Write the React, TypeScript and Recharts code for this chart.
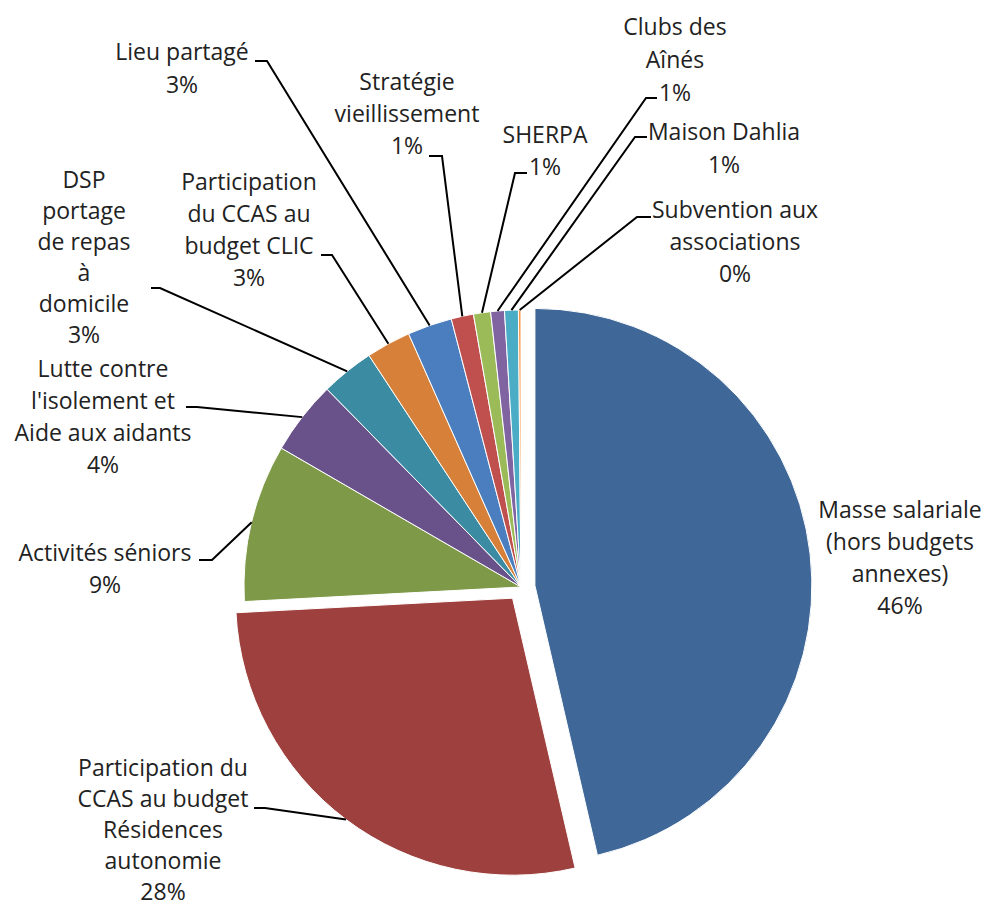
import React from 'react';
import { PieChart, Pie, Cell } from 'recharts';

const categories = [
  'Masse salariale (hors budgets annexes)',
  'Participation du CCAS au budget Résidences autonomie',
  'Activités séniors',
  "Lutte contre l'isolement et Aide aux aidants",
  'DSP portage de repas à domicile',
  'Participation du CCAS au budget CLIC',
  'Lieu partagé',
  'Stratégie vieillissement',
  'SHERPA',
  'Clubs des Aînés',
  'Maison Dahlia',
  'Subvention aux associations',
];

const shares = [46.4, 27.8, 9.2, 4.3, 3.1, 2.6, 2.6, 1.3, 1.0, 0.8, 0.8, 0.15];

const explodedSlices = [true, true, false, false, false, false, false, false, false, false, false, false];

const colors = [
  '#3F6797', '#9E413E', '#7E9A48', '#69518A', '#3B8CA2', '#D6803A',
  '#4A7EBF', '#C0504D', '#9BBB59', '#8064A2', '#4BACC6', '#F79646',
];

// words per wrapped label line
const wrapWords = [
  [2, 2, 1],
  [2, 3, 1, 1],
  [2],
  [2, 2, 3],
  [1, 1, 2, 1, 1],
  [1, 3, 2],
  [2],
  [1, 1],
  [1],
  [2, 1],
  [2],
  [2, 1],
];

// label text centre x, first line centre y, leader elbow (ex, ey) and end x
type Layout = { x: number; y: number; lh: number; leader: null | { ex: number; ey: number; endX: number } };
const labelLayout: Layout[] = [
  { x: 900, y: 510, lh: 32, leader: null },
  { x: 163, y: 768, lh: 31, leader: { ex: 265, ey: 808, endX: 254 } },
  { x: 105, y: 553, lh: 32, leader: { ex: 212, ey: 560, endX: 199 } },
  { x: 103, y: 369, lh: 32, leader: { ex: 197, ey: 407, endX: 186 } },
  { x: 84, y: 180, lh: 31, leader: { ex: 160, ey: 288, endX: 151 } },
  { x: 249, y: 182, lh: 32, leader: { ex: 332, ey: 255, endX: 321 } },
  { x: 182, y: 52, lh: 33, leader: { ex: 267, ey: 61, endX: 255 } },
  { x: 407, y: 82, lh: 32, leader: { ex: 442, ey: 156, endX: 429 } },
  { x: 545, y: 135, lh: 32, leader: { ex: 515, ey: 173, endX: 527 } },
  { x: 675, y: 27, lh: 33, leader: { ex: 646, ey: 98, endX: 657 } },
  { x: 724, y: 132, lh: 33, leader: { ex: 635, ey: 137, endX: 647 } },
  { x: 735, y: 210, lh: 32, leader: { ex: 637, ey: 217, endX: 651 } },
];

const CX = 521;
const CY = 587;
const R = 277;
const EXPLODE = 14;
const RAD = Math.PI / 180;
const FONT = '"Open Sans", Lato, sans-serif';
const FONT_SIZE = 23;

const data = categories.map((name, i) => ({ name, value: shares[i] }));
const total = shares.reduce((a, b) => a + b, 0);

function explodeOffset(i: number) {
  if (!explodedSlices[i]) return { dx: 0, dy: 0 };
  const before = shares.slice(0, i).reduce((a, b) => a + b, 0);
  const mid = 90 - (360 * (before + shares[i] / 2)) / total;
  return { dx: EXPLODE * Math.cos(mid * RAD), dy: -EXPLODE * Math.sin(mid * RAD) };
}

function wrapName(name: string, counts: number[]) {
  const words = name.split(' ');
  const lines: string[] = [];
  let k = 0;
  counts.forEach((c) => {
    lines.push(words.slice(k, k + c).join(' '));
    k += c;
  });
  return lines;
}

const renderLabel = (props: any) => {
  const { cx, cy, midAngle, outerRadius, percent, index } = props;
  const lay = labelLayout[index];
  const off = explodeOffset(index);
  const px = cx + off.dx + outerRadius * Math.cos(-midAngle * RAD);
  const py = cy + off.dy + outerRadius * Math.sin(-midAngle * RAD);
  const lines = [...wrapName(categories[index], wrapWords[index]), `${Math.round(percent * 100)}%`];
  return (
    <g key={`lbl-${index}`}>
      {lay.leader && (
        <polyline
          points={`${px},${py} ${lay.leader.ex},${lay.leader.ey} ${lay.leader.endX},${lay.leader.ey}`}
          fill="none"
          stroke="#000"
          strokeWidth={2}
        />
      )}
      <text
        x={lay.x}
        textAnchor="middle"
        fontFamily={FONT}
        fontSize={FONT_SIZE}
        fill="#222222"
      >
        {lines.map((l, j) => (
          <tspan key={j} x={lay.x} y={lay.y + j * lay.lh + 8}>
            {l}
          </tspan>
        ))}
      </text>
    </g>
  );
};

export default function App() {
  return (
    <div style={{ width: 988, height: 907, background: '#fff' }}>
      <style>{'body{margin:0;background:#fff;}'}</style>
      <PieChart width={988} height={907} margin={{ top: 0, right: 0, bottom: 0, left: 0 }}>
        {/* base pie: non-exploded slices + labels */}
        <Pie
          data={data}
          dataKey="value"
          nameKey="name"
          cx={CX}
          cy={CY}
          outerRadius={R}
          startAngle={90}
          endAngle={-270}
          isAnimationActive={false}
          label={renderLabel}
          labelLine={false}
        >
          {data.map((d, i) => (
            <Cell
              key={`base-${i}`}
              fill={explodedSlices[i] ? 'transparent' : colors[i]}
              stroke={explodedSlices[i] ? 'none' : '#ffffff'}
              strokeWidth={1}
            />
          ))}
        </Pie>
        {/* exploded slices */}
        {explodedSlices.map((ex, k) => {
          if (!ex) return null;
          const off = explodeOffset(k);
          return (
            <Pie
              key={`ex-${k}`}
              data={data}
              dataKey="value"
              nameKey="name"
              cx={CX + off.dx}
              cy={CY + off.dy}
              outerRadius={R}
              startAngle={90}
              endAngle={-270}
              isAnimationActive={false}
              label={false}
              labelLine={false}
            >
              {data.map((d, i) => (
                <Cell
                  key={`ex-${k}-${i}`}
                  fill={i === k ? colors[i] : 'transparent'}
                  stroke={i === k ? '#ffffff' : 'none'}
                  strokeWidth={1}
                />
              ))}
            </Pie>
          );
        })}
      </PieChart>
    </div>
  );
}
